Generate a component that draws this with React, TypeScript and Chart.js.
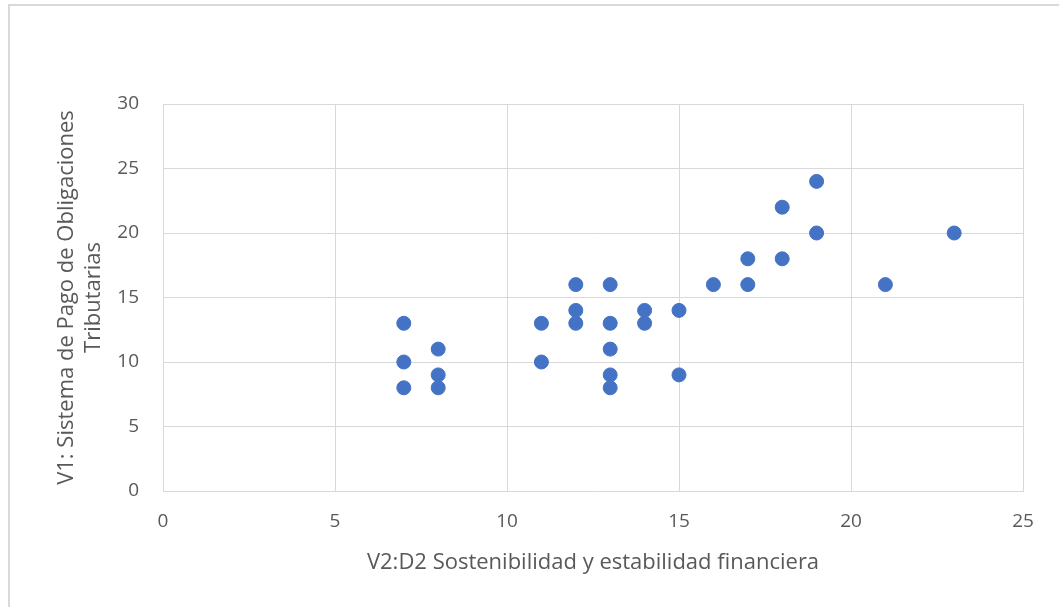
import React, { useEffect, useRef } from "react";
import { Chart, registerables } from "chart.js";

Chart.register(...registerables);

const xValues = [7, 7, 7, 8, 8, 8, 11, 11, 12, 12, 12, 13, 13, 13, 13, 13, 14, 14, 15, 15, 16, 17, 17, 18, 18, 19, 19, 21, 23];
const yValues = [13, 10, 8, 11, 9, 8, 13, 10, 16, 14, 13, 16, 13, 11, 9, 8, 14, 13, 14, 9, 16, 18, 16, 22, 18, 24, 20, 16, 20];
const xTitle = "V2:D2 Sostenibilidad y estabilidad financiera";
const yTitle = ["V1: Sistema de Pago de Obligaciones", "Tributarias"];

const FONT = "'Open Sans', sans-serif";
const GRID = "#d9d9d9";
const TEXT = "#595959";

export default function App() {
  const ref = useRef<HTMLCanvasElement>(null);
  useEffect(() => {
    if (!ref.current) return;
    const points = xValues.map((x, i) => ({ x, y: yValues[i] }));
    const chart = new Chart(ref.current, {
      type: "scatter",
      data: {
        datasets: [
          {
            data: points,
            backgroundColor: "#4472C4",
            borderColor: "#4472C4",
            borderWidth: 1,
            pointRadius: 7,
            pointHoverRadius: 7,
          },
        ],
      },
      options: {
        animation: false,
        responsive: false,
        maintainAspectRatio: false,
        layout: { padding: { left: 0, right: 36, top: 104, bottom: 0 } },
        plugins: { legend: { display: false }, tooltip: { enabled: false } },
        scales: {
          x: {
            type: "linear",
            min: 0,
            max: 25,
            ticks: { stepSize: 5, color: TEXT, font: { family: FONT, size: 19 }, padding: 19 },
            grid: { color: GRID, drawTicks: false },
            border: { color: GRID },
            title: {
              display: true,
              text: xTitle,
              color: TEXT,
              font: { family: FONT, size: 22 },
              padding: { top: 0, bottom: 31 },
            },
            afterFit: (s: any) => {
              s.height = 116;
            },
          },
          y: {
            type: "linear",
            min: 0,
            max: 30,
            ticks: { stepSize: 5, color: TEXT, font: { family: FONT, size: 19 }, padding: 24 },
            grid: { color: GRID, drawTicks: false },
            border: { color: GRID },
            title: {
              display: true,
              text: yTitle,
              color: TEXT,
              font: { family: FONT, size: 22 },
              padding: { top: 54, bottom: 0 },
            },
            afterFit: (s: any) => {
              s.width = 163;
            },
          },
        },
      },
    });
    return () => chart.destroy();
  }, []);
  return (
    <div style={{ position: "absolute", left: 0, top: 0, width: 1059, height: 607, background: "#fff" }}>
      <div
        style={{
          position: "absolute",
          left: 8,
          top: 4,
          width: 1060,
          height: 610,
          borderLeft: `2px solid ${GRID}`,
          borderTop: `2px solid ${GRID}`,
          boxSizing: "border-box",
        }}
      />
      <canvas ref={ref} width={1059} height={607} style={{ position: "absolute", left: 0, top: 0 }} />
    </div>
  );
}
